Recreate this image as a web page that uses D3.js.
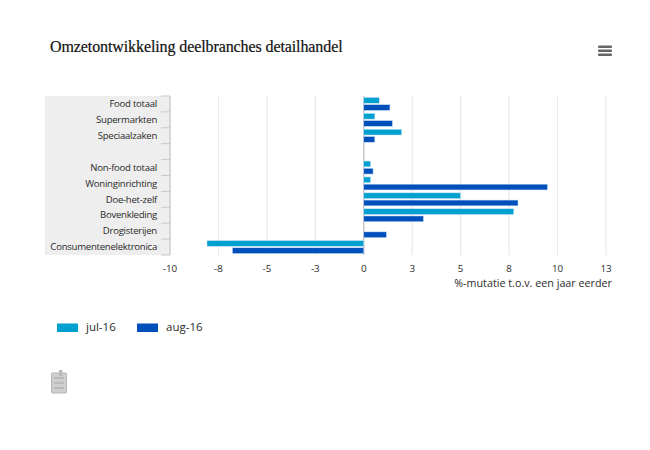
<!DOCTYPE html>
<html><head><meta charset="utf-8">
<script src="https://cdn.jsdelivr.net/npm/d3@7"></script>
<style>html,body{margin:0;background:#fff}svg{display:block}text{font-family:"Open Sans",sans-serif;fill:#2b2b2b}</style>
</head><body><svg id="c" width="650" height="450"></svg>
<script>
const categories=["Food totaal","Supermarkten","Speciaalzaken"," ","Non-food totaal","Woninginrichting","Doe-het-zelf","Bovenkleding","Drogisterijen","Consumentenelektronica"];
const jul16=[0.8,0.57,1.95,null,0.35,0.35,4.99,7.74,null,-8.09];
const aug16=[1.35,1.48,0.57,null,0.48,9.48,7.96,3.08,1.17,-6.78];
const tickValues=[-10,-7.5,-5,-2.5,0,2.5,5,7.5,10,12.5];
const tickLabels=["-10","-8","-5","-3","0","3","5","8","10","13"];
const seriesNames=["jul-16","aug-16"];
const colors=["#00a0d0","#0050bb"];
const svg=d3.select("#c");
const x=d3.scaleLinear().domain([-10,12.5]).range([170,606]);
const y=d3.scaleBand().domain(categories).range([96,255]);
const inner=d3.scaleBand().domain([0,1]).range([0,y.bandwidth()]).paddingInner(0.2).paddingOuter(0.2);

svg.append("text").text("Omzetontwikkeling deelbranches detailhandel")
 .attr("x",50).attr("y",52).style("font-family","'Liberation Serif',serif").style("font-size","16px").style("letter-spacing","-0.1px").style("fill","#111").style("stroke","#111").style("stroke-width","0.2px");

svg.append("rect").attr("x",45).attr("y",96).attr("width",125).attr("height",159).attr("fill","#eeeeee");
svg.append("g").selectAll("line").data(tickValues).join("line")
 .attr("x1",d=>x(d)).attr("x2",d=>x(d)).attr("y1",96).attr("y2",255)
 .attr("stroke",d=>d===0?"#c8c8c8":"#e8e8e8").attr("stroke-width",d=>d===0?1.5:1.2);

const yEdges=d3.range(categories.length+1).map(i=>96+i*y.step());
svg.append("g").selectAll("line").data(yEdges).join("line")
 .attr("x1",161).attr("x2",170).attr("y1",d=>d).attr("y2",d=>d).attr("stroke","#c8c8c8");
svg.append("line").attr("x1",170).attr("x2",170).attr("y1",96).attr("y2",255).attr("stroke","#c8c8c8").attr("stroke-width",1.2);

svg.append("g").selectAll("text").data(categories).join("text").text(d=>d)
 .attr("x",157).attr("y",d=>y(d)+y.bandwidth()/2+3.2).attr("text-anchor","end").style("font-size","9.6px").style("letter-spacing","-0.27px");

[jul16,aug16].forEach((vals,s)=>{
 svg.append("g").selectAll("rect").data(vals.map((v,i)=>({v,c:categories[i]})).filter(d=>d.v!==null)).join("rect")
  .attr("x",d=>Math.min(x(0),x(d.v))).attr("width",d=>Math.abs(x(d.v)-x(0)))
  .attr("y",d=>y(d.c)+inner(s)).attr("height",inner.bandwidth())
  .attr("fill",colors[s]).attr("stroke","#cfe3f5").attr("stroke-width",0.5);
});

svg.append("g").selectAll("text").data(tickValues).join("text").text((d,i)=>tickLabels[i])
 .attr("x",d=>x(d)).attr("y",272).attr("text-anchor","middle").style("font-size","9.8px");
svg.append("text").text("%-mutatie t.o.v. een jaar eerder").attr("x",612).attr("y",287).attr("text-anchor","end").style("font-size","10.75px");

const legendX=[57,137];
seriesNames.forEach((n,i)=>{
 svg.append("rect").attr("x",legendX[i]).attr("y",323.5).attr("width",21).attr("height",8.5).attr("fill",colors[i]);
 svg.append("text").text(n).attr("x",legendX[i]+29).attr("y",330.5).style("font-size","11.5px");
});

[47,51,55].forEach(t=>svg.append("rect").attr("x",598).attr("y",t-1.5).attr("width",14).attr("height",2.6).attr("rx",1).attr("fill","#666"));

const ic=svg.append("g");
ic.append("rect").attr("x",51.5).attr("y",373).attr("width",15).attr("height",20).attr("rx",1).attr("fill","#cfcfcf").attr("stroke","#b5b5b5");
ic.append("rect").attr("x",59).attr("y",370).attr("width",3.5).attr("height",6).attr("fill","#b8b8b8");
[378,383,388].forEach(t=>ic.append("line").attr("x1",54).attr("x2",64).attr("y1",t).attr("y2",t).attr("stroke","#a5a5a5"));
</script></body></html>
